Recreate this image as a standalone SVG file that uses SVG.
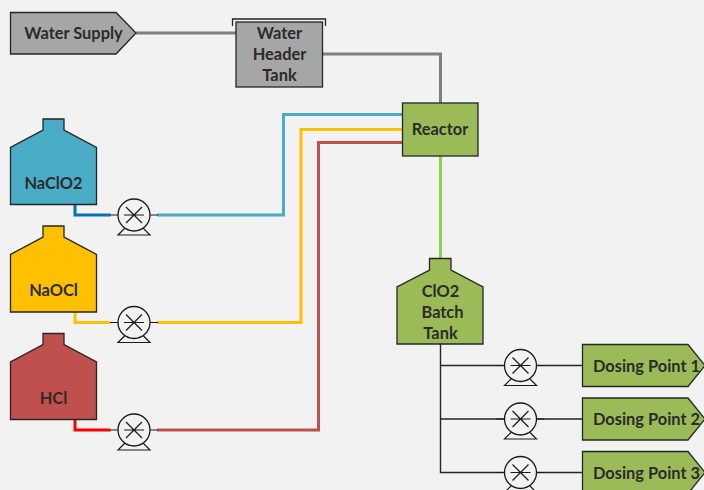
<svg xmlns="http://www.w3.org/2000/svg" width="704" height="490" viewBox="0 0 704 490">
<style>
.s{stroke:#262626;stroke-width:1.3;stroke-linejoin:miter}
.g{fill:#a6a6a6}.l{fill:#9bbb59}
.t{font-family:"Lato","Carlito","Liberation Sans",sans-serif;font-weight:700;font-size:16.4px;fill:#2b2b2b;text-anchor:middle}
.c{fill:none;stroke-linejoin:miter}
.w{stroke-width:3}
.k{stroke:#262626;stroke-width:1.4;fill:none}
.p circle{fill:#f2f2f2;stroke:#1a1a1a;stroke-width:1.3}
.p path{fill:none;stroke:#1a1a1a;stroke-width:1.2}
</style>
<defs>
<g id="pump" class="p">
<path d="M-9 13L-16 20H16L9 13"/>
<circle r="16"/>
<path d="M-8-8L8 8M8-8L-8 8M-10 0H10M-24 0H-16M16 0H24"/>
</g>
</defs>
<rect width="704" height="490" fill="#f2f2f2"/>
<g id="connectors">
<path class="c w" stroke="#7f7f7f" d="M136 33H236M322 54H440.500V103"/>
<path class="c w" stroke="#4bacc6" d="M157 215H283.500V114.500H402.500"/>
<path class="c w" stroke="#ffc000" d="M157 322.500H301V129.500H402.500"/>
<path class="c w" stroke="#c0504d" d="M157 430H318.500V142.500H402.500"/>
<path class="c w" stroke="#0070c0" d="M75 204V215H110.500"/>
<path class="c w" stroke="#ffc000" d="M75 312V322.500H110.500"/>
<path class="c w" stroke="#ff0000" d="M75 419V430H110.500"/>
<path class="c w" stroke="#92d050" d="M440.500 156V259"/>
<path class="k" d="M440.500 344V472.500H582.500M440.500 365.500H582.500M440.500 419H582.500"/>
</g>
<g id="water-supply"><path class="s g" d="M10.500 12.500H116L136 33L116 54H10.500Z"/><text class="t" x="73.500" y="38.500">Water Supply</text></g>
<g id="water-header-tank"><path d="M232.500 26V19H325.500V26" fill="none" stroke="#262626" stroke-width="1.300"/><rect class="s g" x="236" y="22" width="86.500" height="65"/><text class="t" x="279.500" y="39">Water</text><text class="t" x="279.500" y="60">Header</text><text class="t" x="279.500" y="81">Tank</text></g>
<g id="naclo2"><path class="s" fill="#4bacc6" d="M43 119H64V130L96.500 147.500V204.500H10.500V147.500L43 130Z"/><text class="t" x="53.500" y="189">NaClO2</text></g>
<g id="naocl"><path class="s" fill="#ffc000" d="M43 226H64V237L96.500 254.500V312H10.500V254.500L43 237Z"/><text class="t" x="53.500" y="296">NaOCl</text></g>
<g id="hcl"><path class="s" fill="#c0504d" d="M43 333.500H64V344.500L96.500 362V419.500H10.500V362L43 344.500Z"/><text class="t" x="53.500" y="404">HCl</text></g>
<g id="pump-1"><use href="#pump" x="134" y="215"/></g>
<g id="pump-2"><use href="#pump" x="134" y="322.500"/></g>
<g id="pump-3"><use href="#pump" x="134" y="430"/></g>
<g id="reactor"><rect class="s l" x="402.500" y="103" width="75.500" height="53"/><text class="t" x="440" y="134.500">Reactor</text></g>
<g id="clo2-batch-tank"><path class="s l" d="M429.500 258.500H451V270L483 287V344H397V287L429.500 270Z"/><text class="t" x="440.500" y="297">ClO2</text><text class="t" x="442.500" y="318">Batch</text><text class="t" x="440.500" y="339">Tank</text></g>
<g id="pump-4"><use href="#pump" x="520.500" y="365.500"/></g>
<g id="pump-5"><use href="#pump" x="520.500" y="419"/></g>
<g id="pump-6"><use href="#pump" x="520.500" y="472.500"/></g>
<g id="dosing-point-1"><path class="s l" d="M582.500 344.500H688L705 365.500L688 386.500H582.500Z"/><text class="t" x="646.500" y="372">Dosing Point 1</text></g>
<g id="dosing-point-2"><path class="s l" d="M582.500 398H688L705 419L688 440H582.500Z"/><text class="t" x="646.500" y="425">Dosing Point 2</text></g>
<g id="dosing-point-3"><path class="s l" d="M582.500 451.500H688L705 472.500L688 493.500H582.500Z"/><text class="t" x="646.500" y="479">Dosing Point 3</text></g>
</svg>
